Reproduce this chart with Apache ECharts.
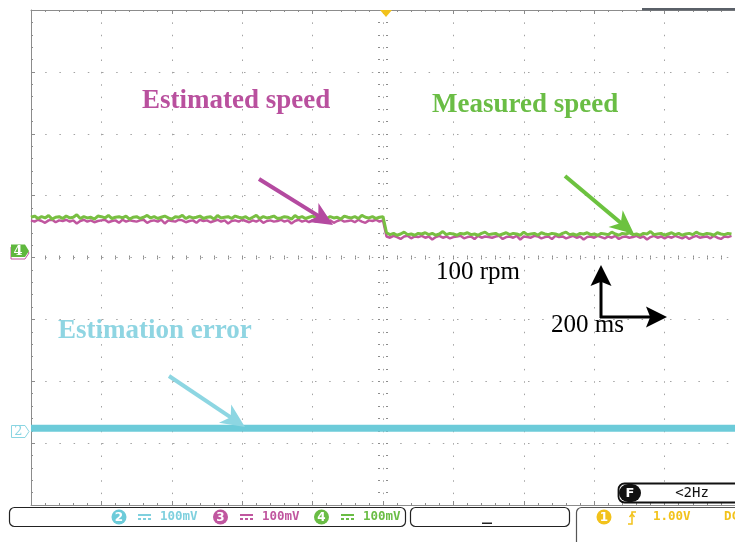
<!DOCTYPE html>
<html>
<head>
<meta charset="utf-8">
<script src="https://cdn.jsdelivr.net/npm/echarts@6/dist/echarts.min.js"></script>
<style>
html,body{margin:0;padding:0;background:#fff;}
#chart{width:735px;height:542px;}
</style>
</head>
<body>
<div id="chart"></div>
<script>
// ---- Data (rpm, 100 rpm/div; time in ms, 200 ms/div) ----
const sampleStepMs = 10;
const leftStartMs = -1000;
const rightStartMs = 10;

const measuredLeft = [
  65,67,63,66,64,68,62,65,66,63,
  67,64,65,69,63,66,64,65,62,67,
  66,64,68,63,65,66,64,67,62,65,
  66,63,65,68,64,66,63,65,67,64,
  62,66,65,68,63,66,64,65,67,63,
  65,66,62,68,64,65,66,63,67,65,
  64,66,62,65,68,63,66,64,65,67,
  63,64,66,65,62,68,64,66,63,65,
  67,64,65,70,63,66,64,65,62,67,
  65,64,66,63,68,65,64,66,63,65,
  66
];
const estimatedLeft = [
  60,58,61,59,56,60,61,57,60,59,
  61,58,60,55,59,61,58,60,57,59,
  60,61,57,59,60,56,61,58,60,59,
  58,60,61,56,59,60,58,61,55,60,
  59,58,61,60,57,59,60,56,61,59,
  60,57,59,61,58,60,55,59,60,58,
  61,59,57,60,58,61,56,59,60,58,
  59,61,58,60,55,59,61,58,60,57,
  60,58,61,59,57,60,56,59,61,58,
  59,60,57,61,58,56,60,59,61,58,
  60
];
const measuredRight = [
  40,37,39,36,38,41,37,38,36,39,
  38,40,37,39,36,38,42,37,39,38,
  36,39,38,40,37,38,36,39,41,37,
  38,39,36,38,40,37,39,38,36,41,
  37,38,39,36,40,38,37,39,38,36,
  39,41,37,38,36,39,38,40,37,38,
  36,39,38,37,41,38,36,39,38,40,
  37,38,36,39,38,42,37,38,39,36,
  38,40,37,39,36,38,39,37,41,38,
  37,39,38,36,40,38,37,39,38
];
const estimatedRight = [
  34,32,35,33,30,34,35,31,34,33,
  35,32,34,29,33,35,32,34,31,33,
  34,35,31,33,34,30,35,32,34,33,
  32,34,35,30,33,34,32,35,29,34,
  33,32,35,34,31,33,34,30,35,33,
  34,31,33,35,32,34,29,33,34,32,
  35,33,31,34,32,35,30,33,34,32,
  33,35,32,34,29,33,35,32,34,31,
  34,32,35,33,31,34,30,33,35,32,
  33,34,31,35,32,30,34,33,35
];
const errorTimes = [-1000, 1000];
const errorValues = [-276, -276];

const annotationLabels = ['Estimated speed', 'Measured speed', 'Estimation error', '100 rpm', '200 ms'];
const channelLabels = ['100mV', '100mV', '100mV'];
const triggerText = ['1.00V', 'DC', '<2Hz'];

// ---- build series pairs ----
function pairs(start, vals) { return vals.map((v, i) => [start + i * sampleStepMs, v]); }
const measuredData = pairs(leftStartMs, measuredLeft).concat(pairs(rightStartMs, measuredRight));
const estimatedData = pairs(leftStartMs, estimatedLeft).concat(pairs(rightStartMs, estimatedRight));
const errorData = errorTimes.map((t, i) => [t, errorValues[i]]);

const GRID = '#8c8c8c', DOT = '#a3a3a3';
const CYAN = '#6ccbd9', MAG = '#c0569f', GRN = '#78bf42', YEL = '#f2c21b';

function xAx(pos, offset, opts) {
  return Object.assign({
    type: 'value', min: -1000, max: 1000, interval: 200, position: pos, offset: offset,
    axisLine: { show: false, onZero: false }, axisLabel: { show: false },
    axisTick: { show: true, inside: true, length: 2, lineStyle: { color: GRID } },
    minorTick: { show: true, splitNumber: 5, length: 2, lineStyle: { color: GRID } },
    splitLine: { show: false }
  }, opts || {});
}
function yAx(pos, offset, opts) {
  return Object.assign({
    type: 'value', min: -400, max: 400, interval: 100, position: pos, offset: offset,
    axisLine: { show: false, onZero: false }, axisLabel: { show: false },
    axisTick: { show: true, inside: true, length: 2, lineStyle: { color: GRID } },
    minorTick: { show: true, splitNumber: 5, length: 2, lineStyle: { color: GRID } },
    splitLine: { show: false }
  }, opts || {});
}

function arrow(x1, y1, x2, y2, color, lw, hl, hw, notch) {
  const dx = x2 - x1, dy = y2 - y1, L = Math.sqrt(dx * dx + dy * dy);
  const ux = dx / L, uy = dy / L, nx = -uy, ny = ux;
  const bx = x2 - ux * hl, by = y2 - uy * hl;
  const kx = x2 - ux * hl * notch, ky = y2 - uy * hl * notch;
  return [
    { type: 'line', z: 100, shape: { x1: x1, y1: y1, x2: kx + ux * 1, y2: ky + uy * 1 },
      style: { stroke: color, lineWidth: lw } },
    { type: 'polygon', z: 100, shape: { points: [[x2, y2], [bx + nx * hw, by + ny * hw], [kx, ky], [bx - nx * hw, by - ny * hw]] },
      style: { fill: color } }
  ];
}
function txt(x, y, text, font, fill, align) {
  return { type: 'text', z: 101, style: { x: x, y: y, text: text, font: font, fill: fill,
    textAlign: align || 'left', textVerticalAlign: 'middle' } };
}
function dcSym(x, y, color) {
  return [
    { type: 'rect', z: 101, shape: { x: x, y: y - 3, width: 13, height: 2 }, style: { fill: color } },
    { type: 'rect', z: 101, shape: { x: x, y: y + 1, width: 3, height: 2 }, style: { fill: color } },
    { type: 'rect', z: 101, shape: { x: x + 5, y: y + 1, width: 3, height: 2 }, style: { fill: color } },
    { type: 'rect', z: 101, shape: { x: x + 10, y: y + 1, width: 3, height: 2 }, style: { fill: color } }
  ];
}
function badge(cx, cy, color, label) {
  return [
    { type: 'circle', z: 101, shape: { cx: cx, cy: cy, r: 7.5 }, style: { fill: color } },
    txt(cx, cy + 0.5, label, 'bold 12px "DejaVu Sans"', '#fff', 'center')
  ];
}

const MONO = 'bold 12.5px "DejaVu Sans Mono"';
const ANNOT = 'bold 27px "Liberation Serif"';
const PLAIN = '25px "Liberation Serif"';

let graphics = [];
// top-right bar and trigger marker
graphics.push({ type: 'rect', z: 100, shape: { x: 642, y: 8, width: 93, height: 2.5 }, style: { fill: '#5a6068' } });
graphics.push({ type: 'polygon', z: 100, shape: { points: [[380, 10], [392, 10], [386, 17]] }, style: { fill: YEL } });
// channel markers
graphics.push({ type: 'polygon', z: 99, shape: { points: [[11, 247], [25, 247], [29, 253], [25, 259], [11, 259]] }, style: { fill: '#fff', stroke: MAG, lineWidth: 1 } });
graphics.push({ type: 'polygon', z: 100, shape: { points: [[11, 244.5], [25, 244.5], [29, 251], [25, 257], [11, 257]] }, style: { fill: '#5fb83e' } });
graphics.push(txt(18, 251.5, '4', 'bold 13px "DejaVu Serif"', '#fff', 'center'));
graphics.push({ type: 'polygon', z: 100, shape: { points: [[11.5, 425.5], [25, 425.5], [29, 431.5], [25, 437.5], [11.5, 437.5]] }, style: { fill: '#fff', stroke: '#8ad5e2', lineWidth: 1 } });
graphics.push(txt(18.5, 432, '2', '13px "DejaVu Serif"', '#8ad5e2', 'center'));
// annotations
graphics.push(txt(142, 101, annotationLabels[0], ANNOT, '#b9509e'));
graphics.push(txt(432, 105, annotationLabels[1], ANNOT, '#6abd45'));
graphics.push(txt(58, 331, annotationLabels[2], ANNOT, '#8fd5e2'));
graphics.push(txt(436, 272, annotationLabels[3], PLAIN, '#000'));
graphics.push(txt(551, 325, annotationLabels[4], PLAIN, '#000'));
graphics = graphics.concat(arrow(259, 179, 333, 225, '#b44aa0', 4, 24, 11, 0.72));
graphics = graphics.concat(arrow(565, 176, 634, 234, '#6cc23f', 4, 24, 11, 0.72));
graphics = graphics.concat(arrow(169, 376, 245, 427, '#8dd6e2', 4, 24, 11, 0.72));
graphics = graphics.concat(arrow(601, 318, 601, 265, '#000', 3, 21, 10.5, 0.8));
graphics = graphics.concat(arrow(600, 317, 667, 317, '#000', 3, 21, 10.5, 0.8));
// bottom status boxes
graphics.push({ type: 'rect', z: 100, shape: { x: 9.5, y: 507.5, width: 396, height: 19, r: 5 }, style: { fill: '#fff', stroke: '#222', lineWidth: 1.2 } });
graphics.push({ type: 'rect', z: 100, shape: { x: 410.5, y: 507.5, width: 159, height: 19, r: 5 }, style: { fill: '#fff', stroke: '#222', lineWidth: 1.2 } });
graphics.push({ type: 'rect', z: 100, shape: { x: 482, y: 522.5, width: 10, height: 1.5 }, style: { fill: '#222' } });
graphics.push({ type: 'rect', z: 100, shape: { x: 576.5, y: 507.5, width: 200, height: 60, r: 5 }, style: { fill: '#fff', stroke: '#555', lineWidth: 1.2 } });
graphics.push({ type: 'rect', z: 100, shape: { x: 618.5, y: 483.5, width: 140, height: 19, r: 6 }, style: { fill: '#fff', stroke: '#111', lineWidth: 1.8 } });
graphics.push({ type: 'rect', z: 101, shape: { x: 619, y: 484, width: 22, height: 18, r: 9 }, style: { fill: '#111' } });
graphics.push(txt(630, 493.5, 'F', 'bold 13px "DejaVu Sans"', '#fff', 'center'));
graphics.push(txt(692, 493, triggerText[2], '14px "DejaVu Sans Mono"', '#111', 'center'));
// channel scale texts
graphics = graphics.concat(badge(119, 517, CYAN, '2'));
graphics = graphics.concat(dcSym(138, 517, '#7fd0de'));
graphics.push(txt(160, 517, channelLabels[0], MONO, '#7fd0de'));
graphics = graphics.concat(badge(220.5, 517, MAG, '3'));
graphics = graphics.concat(dcSym(240, 517, MAG));
graphics.push(txt(262, 517, channelLabels[1], MONO, MAG));
graphics = graphics.concat(badge(321.5, 517, '#6abd45', '4'));
graphics = graphics.concat(dcSym(341, 517, '#6abd45'));
graphics.push(txt(363, 517, channelLabels[2], MONO, '#6abd45'));
// trigger info
graphics = graphics.concat(badge(604, 517, YEL, '1'));
graphics.push({ type: 'polyline', z: 101, shape: { points: [[628, 524], [632, 524], [632, 512], [636, 512]] }, style: { stroke: YEL, lineWidth: 1.5, fill: null } });
graphics.push({ type: 'polyline', z: 101, shape: { points: [[629.5, 517], [632, 514], [634.5, 517]] }, style: { stroke: YEL, lineWidth: 1.5, fill: null } });
graphics.push(txt(653, 517, triggerText[0], MONO, YEL));
graphics.push(txt(724, 517, triggerText[1], MONO, YEL));

const chart = echarts.init(document.getElementById('chart'), null, { renderer: 'canvas' });
chart.setOption({
  animation: false,
  backgroundColor: '#fff',
  grid: { left: 31, top: 10, right: -6, bottom: 37, containLabel: false },
  xAxis: [
    xAx('bottom', 0, {
      axisLine: { show: true, onZero: false, lineStyle: { color: GRID, width: 1 } },
      axisTick: { show: true, inside: true, length: 4, lineStyle: { color: GRID } },
      splitLine: { show: true, lineStyle: { color: DOT, width: 1, type: [1.5, 10.875] } }
    }),
    xAx('top', 0, {
      axisLine: { show: true, onZero: false, lineStyle: { color: GRID, width: 1 } },
      axisTick: { show: true, inside: true, length: 4, lineStyle: { color: GRID } }
    }),
    xAx('bottom', -247.5),
    xAx('top', -247.5)
  ],
  yAxis: [
    yAx('left', 0, {
      axisLine: { show: true, onZero: false, lineStyle: { color: GRID, width: 1 } },
      axisTick: { show: true, inside: true, length: 4, lineStyle: { color: GRID } },
      splitLine: { show: true, lineStyle: { color: DOT, width: 1, type: [1.5, 12.7] } }
    }),
    yAx('left', -355),
    yAx('right', -355)
  ],
  series: [
    { type: 'line', name: 'Estimation error', data: errorData, showSymbol: false, silent: true,
      lineStyle: { color: CYAN, width: 7 }, z: 2 },
    { type: 'line', name: 'Estimated speed', data: estimatedData, showSymbol: false, silent: true,
      lineStyle: { color: MAG, width: 2.5 }, z: 3 },
    { type: 'line', name: 'Measured speed', data: measuredData, showSymbol: false, silent: true,
      lineStyle: { color: GRN, width: 3 }, z: 4 }
  ],
  graphic: { elements: graphics }
});
</script>
</body>
</html>
